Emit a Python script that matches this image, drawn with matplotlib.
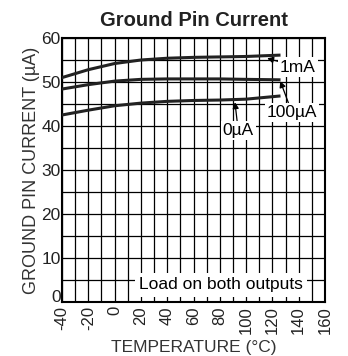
import matplotlib
matplotlib.use("Agg")
from matplotlib import pyplot as plt
from matplotlib import transforms
import numpy as np

plt.rcParams['font.family'] = ['Liberation Sans', 'DejaVu Sans']

# temperature points (C) and ground pin current (uA)
temp = [-40, -20, 0, 20, 40, 60, 80, 100, 125]
i_1mA = [51.0, 52.8, 54.2, 55.0, 55.4, 55.6, 55.7, 55.8, 56.1]
i_100uA = [48.4, 49.4, 50.2, 50.6, 50.7, 50.7, 50.7, 50.6, 50.5]
i_0uA = [42.5, 43.6, 44.6, 45.2, 45.6, 45.8, 45.9, 46.1, 46.8]

xticks = list(range(-40, 161, 20))
yticks = list(range(0, 61, 10))

fig = plt.figure(figsize=(3.48, 3.56), dpi=100)
ax = fig.add_axes([62 / 348, 54 / 356, 263 / 348, 264 / 356])

ax.set_xlim(-40, 160)
ax.set_ylim(0, 60)
ax.set_xticks(np.arange(-40, 161, 10), minor=True)
ax.set_yticks(np.arange(0, 61, 5), minor=True)
ax.set_xticks(xticks)
ax.set_yticks(yticks)
ax.set_xticklabels([str(t) for t in xticks], rotation=90, fontsize=12, color='#222222')
ax.set_yticklabels([str(t) for t in yticks], fontsize=12.5, color='#222222')
ax.grid(True, which='both', color='black', linewidth=0.9)
ax.tick_params(which='both', length=0)
ax.tick_params(axis='x', pad=3)
ax.tick_params(axis='y', pad=1)
for s in ax.spines.values():
    s.set_linewidth(1.5)

# lift the "0" a bit so it does not run into "-40"
lab0 = ax.get_yticklabels()[0]
lab0.set_transform(lab0.get_transform() + transforms.ScaledTranslation(0, 4 / 72, fig.dpi_scale_trans))

for ys in (i_1mA, i_100uA, i_0uA):
    ax.plot(temp, ys, color='#222222', linewidth=2.2, zorder=3)

box = dict(facecolor='white', edgecolor='none', pad=1.5)
arrow = dict(arrowstyle='-|>', color='black', lw=0.9, mutation_scale=9, shrinkA=0, shrinkB=0)
ax.annotate('1mA', xy=(116, 55.4), xytext=(139.5, 53.4), fontsize=12.5,
            ha='center', va='center', bbox=box, arrowprops=arrow, zorder=4)
ax.annotate('100\u00b5A', xy=(126, 50.2), xytext=(135, 43.0), fontsize=12.5,
            ha='center', va='center', bbox=box, arrowprops=arrow, zorder=4)
ax.annotate('0\u00b5A', xy=(91.5, 45.4), xytext=(94, 39.0), fontsize=12.5,
            ha='center', va='center', bbox=box, arrowprops=arrow, zorder=4)
ax.text(81, 3.9, 'Load on both outputs', fontsize=12.5, ha='center', va='center',
        bbox=dict(facecolor='white', edgecolor='none', pad=3), zorder=4)

ax.set_title('Ground Pin Current', fontsize=14.5, fontweight='bold', pad=9, color='#222222')
ax.set_xlabel('TEMPERATURE (\u00b0C)', fontsize=12.5, color='#333333', labelpad=4)
ax.set_ylabel('GROUND PIN CURRENT (\u00b5A)', fontsize=13, color='#333333', labelpad=1)

fig.savefig('out.png', dpi=100)
